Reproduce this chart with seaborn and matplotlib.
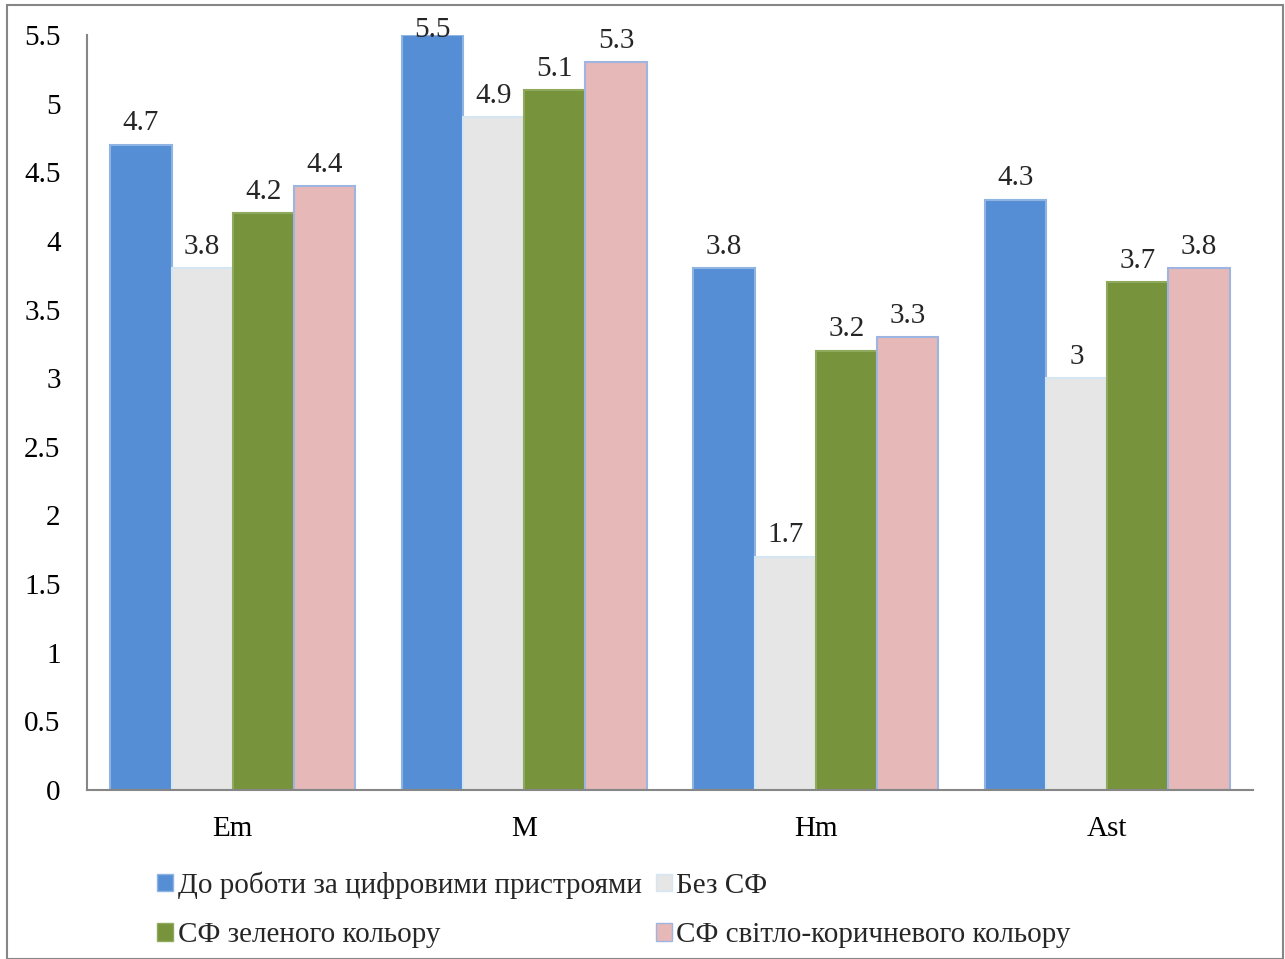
import numpy as np
import pandas as pd
import matplotlib
matplotlib.use("Agg")
import matplotlib.pyplot as plt
import matplotlib.patches as mpatches
import seaborn as sns

# Data
categories = ["Em", "M", "Hm", "Ast"]
series_names = [
    "До роботи за цифровими пристроями",
    "Без СФ",
    "СФ зеленого кольору",
    "СФ світло-коричневого кольору",
]
before_digital = [4.7, 5.5, 3.8, 4.3]
no_filter = [3.8, 4.9, 1.7, 3.0]
green_filter = [4.2, 5.1, 3.2, 3.7]
brown_filter = [4.4, 5.3, 3.3, 3.8]

colors = ["#558ED5", "#E6E6E6", "#77933C", "#E6B9B8"]
edges = ["#8FB3E3", "#D4E6F4", "#8FAA5C", "#9DB5E0"]

rows = []
for name, vals in zip(series_names, [before_digital, no_filter, green_filter, brown_filter]):
    for cat, v in zip(categories, vals):
        rows.append({"category": cat, "series": name, "value": v})
df = pd.DataFrame(rows)

sns.set_style("white")
plt.rcParams['font.family'] = ['Liberation Serif', 'DejaVu Serif']

fig = plt.figure(figsize=(12.85, 9.59), dpi=100)
ax = fig.add_axes([87 / 1285, 1 - 790 / 959, (1253 - 87) / 1285, (790 - 35) / 959])

sns.barplot(data=df, x="category", y="value", hue="series", order=categories,
            hue_order=series_names, palette=colors, width=0.84, saturation=1,
            ax=ax, legend=False)

ymax = 5.5
for container, ec, vals in zip(ax.containers, edges,
                               [before_digital, no_filter, green_filter, brown_filter]):
    for bar in container:
        bar.set_edgecolor(ec)
        bar.set_linewidth(1.5)
    texts = ax.bar_label(container, labels=[f"{v:g}" for v in vals], padding=6, fontsize=21)
    for t, v in zip(texts, vals):
        t.set_clip_on(False)
        if v >= ymax:
            # label at the top of the plot area gets pushed down onto the bar
            t.xyann = (0, -5.5)

ax.set_ylim(0, ymax)
ax.set_xlim(-0.5, 3.5)
ax.set_yticks(np.arange(0, 5.51, 0.5))
ax.set_yticklabels([f"{t:g}" for t in np.arange(0, 5.51, 0.5)])
ax.tick_params(axis="both", length=0, labelsize=21, colors="black")
ax.tick_params(axis="y", pad=19)
ax.tick_params(axis="x", pad=19)
ax.set_xlabel("")
ax.set_ylabel("")
for side in ["top", "right"]:
    ax.spines[side].set_visible(False)
for side in ["left", "bottom"]:
    ax.spines[side].set_color("#868686")
    ax.spines[side].set_linewidth(1.5)

handles = [mpatches.Patch(facecolor=c, edgecolor=e, label=n)
           for c, e, n in zip(colors, edges, series_names)]
# legend fills column-first, so reorder to read row by row like the reference
order = [0, 2, 1, 3]
fig.legend(handles=[handles[i] for i in order], loc="upper left",
           bbox_to_anchor=(131 / 1285, 1 - 845 / 959),
           ncol=2, frameon=False, fontsize=21, handlelength=0.55, handleheight=0.55,
           handletextpad=0.15, columnspacing=0.48, labelspacing=0.8)

# outer chart border
fig.patches.append(mpatches.Rectangle((7 / 1285, 0), 1276 / 1285, 1 - 5 / 959,
                                      transform=fig.transFigure, fill=False,
                                      edgecolor="#868686", linewidth=1.5))

fig.savefig("out.png", dpi=100)
